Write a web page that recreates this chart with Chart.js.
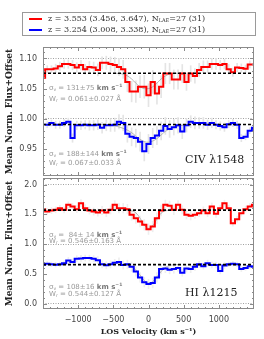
<!DOCTYPE html>
<html>
<head>
<meta charset="utf-8">
<script src="https://cdn.jsdelivr.net/npm/chart.js@4.4.1/dist/chart.umd.min.js"></script>
<style>
  html, body { margin: 0; padding: 0; background: #fff; }
  #wrap { position: relative; width: 264px; height: 339px; overflow: hidden; }
  #wrap canvas { position: absolute; left: 0; top: 0; }
  .legend { position: absolute; left: 22px; top: 12px; width: 234px; height: 24px; box-sizing: border-box;
            border: 1px solid #9a9a9a; font: 8px "DejaVu Serif"; color: #333; }
  .legend .row { position: absolute; left: 6px; height: 10px; line-height: 10px; white-space: nowrap; }
  .legend .swatch { display: inline-block; width: 13px; height: 2px; margin-right: 6px; vertical-align: middle; }
  .legend sub { font-size: 5px; vertical-align: -1px; }
  .note { position: absolute; font: 7px "DejaVu Sans"; color: #999; white-space: nowrap; line-height: 8px; }
  .note b { color: #777; }
  .note sub { font-size: 4.5px; vertical-align: -1px; }
  .note sup { font-size: 4.5px; vertical-align: 3px; }
  .ion { position: absolute; font: 11px "DejaVu Serif"; color: #222; white-space: nowrap; line-height: 12px; }
</style>
</head>
<body>
<div id="wrap">
  <canvas id="civChart" width="264" height="339"></canvas>
  <canvas id="hiChart" width="264" height="339"></canvas>

  <div class="legend">
    <div class="row" style="top:1px"><span class="swatch" style="background:#ff0000"></span>z = 3.553 (3.456, 3.647), N<sub>LAE</sub>=27 (31)</div>
    <div class="row" style="top:12px"><span class="swatch" style="background:#0000ff"></span>z = 3.254 (3.008, 3.338), N<sub>LAE</sub>=27 (31)</div>
  </div>

  <div class="note" style="left:49px;top:82px">σ<sub>v</sub> = 131±75 <b>km s<sup>−1</sup></b></div>
  <div class="note" style="left:49px;top:95px">W<sub>r</sub> = 0.061±0.027 Å</div>
  <div class="note" style="left:49px;top:148px">σ<sub>v</sub> = 188±144 <b>km s<sup>−1</sup></b></div>
  <div class="note" style="left:49px;top:159px">W<sub>r</sub> = 0.067±0.033 Å</div>
  <div class="ion" style="left:185px;top:154px">CIV λ1548</div>

  <div class="note" style="left:49px;top:229px">σ<sub>v</sub> =&nbsp; 84± 14 <b>km s<sup>−1</sup></b></div>
  <div class="note" style="left:49px;top:237px">W<sub>r</sub> = 0.546±0.163 Å</div>
  <div class="note" style="left:49px;top:281px">σ<sub>v</sub> = 108±16 <b>km s<sup>−1</sup></b></div>
  <div class="note" style="left:49px;top:290px">W<sub>r</sub> = 0.544±0.127 Å</div>
  <div class="ion" style="left:185px;top:287px">HI λ1215</div>
</div>

<script>
// bin centres (km/s)
const velocity = [-1500, -1440, -1380, -1320, -1260, -1200, -1140, -1080, -1020, -960,
                  -900, -840, -780, -720, -660, -600, -540, -480, -420, -360,
                  -300, -240, -180, -120, -60, 0, 60, 120, 180, 240,
                  300, 360, 420, 480, 540, 600, 660, 720, 780, 840,
                  900, 960, 1020, 1080, 1140, 1200, 1260, 1320, 1380, 1440, 1500];

// CIV stack, z = 3.553 (red, offset) and z = 3.254 (blue)
const civRed = [1.068, 1.082, 1.082, 1.0835, 1.087, 1.0906, 1.0906, 1.089, 1.085, 1.089,
                1.082, 1.086, 1.085, 1.081, 1.0928, 1.0928, 1.0906, 1.089, 1.086, 1.082,
                1.061, 1.045, 1.045, 1.053, 1.053, 1.039, 1.061, 1.042, 1.053, 1.075,
                1.075, 1.065, 1.065, 1.075, 1.061, 1.075, 1.071, 1.081, 1.086, 1.086,
                1.0906, 1.0906, 1.089, 1.0906, 1.082, 1.077, 1.085, 1.084, 1.083, 1.090, 1.090];
const civBlue = [0.990, 0.990, 0.993, 0.990, 0.990, 0.993, 0.995, 0.968, 0.989, 0.989,
                 0.990, 0.989, 0.989, 0.990, 0.985, 0.989, 0.989, 0.990, 0.995, 0.993,
                 0.975, 0.970, 0.968, 0.962, 0.946, 0.958, 0.968, 0.972, 0.980, 0.988,
                 0.983, 0.986, 0.989, 0.979, 0.989, 0.995, 0.993, 0.993, 0.993, 0.990,
                 0.993, 0.990, 0.988, 0.986, 0.991, 0.993, 0.990, 0.968, 0.970, 0.980, 0.985];
const civRedErr = [0.006, 0.006, 0.006, 0.007, 0.007, 0.007, 0.007, 0.008, 0.008, 0.008,
                   0.008, 0.009, 0.009, 0.010, 0.010, 0.011, 0.012, 0.013, 0.014, 0.015,
                   0.016, 0.017, 0.018, 0.018, 0.019, 0.019, 0.019, 0.018, 0.018, 0.017,
                   0.017, 0.016, 0.016, 0.015, 0.014, 0.013, 0.012, 0.011, 0.010, 0.010,
                   0.009, 0.009, 0.008, 0.008, 0.008, 0.007, 0.007, 0.007, 0.006, 0.006, 0.006];
const civBlueErr = [0.005, 0.005, 0.005, 0.006, 0.006, 0.006, 0.006, 0.007, 0.007, 0.007,
                    0.007, 0.008, 0.008, 0.008, 0.009, 0.009, 0.010, 0.011, 0.012, 0.013,
                    0.014, 0.015, 0.015, 0.016, 0.016, 0.016, 0.016, 0.015, 0.015, 0.014,
                    0.014, 0.013, 0.013, 0.012, 0.011, 0.010, 0.010, 0.009, 0.009, 0.008,
                    0.008, 0.007, 0.007, 0.007, 0.006, 0.006, 0.006, 0.006, 0.005, 0.005, 0.005];
const civContinuum = [1.0755, 0.9905];

// Gaussian fits
const civRedFitV = [-480, -420, -360, -300, -240, -180, -120, -60, 0, 60, 120, 180, 240, 300, 360, 420];
const civRedFit  = [1.0755, 1.075, 1.074, 1.071, 1.066, 1.059, 1.053, 1.050, 1.050, 1.053, 1.059, 1.066, 1.071, 1.074, 1.075, 1.0755];
const civBlueFitV = [-720, -600, -480, -360, -240, -180, -120, -60, 0, 60, 120, 180, 240, 360, 480, 600];
const civBlueFit  = [0.9905, 0.990, 0.988, 0.984, 0.977, 0.971, 0.966, 0.962, 0.961, 0.963, 0.967, 0.973, 0.979, 0.986, 0.989, 0.9905];

// HI (Lya) stack
const hiRed = [1.587, 1.547, 1.564, 1.575, 1.603, 1.575, 1.659, 1.631, 1.587, 1.687,
               1.603, 1.564, 1.547, 1.531, 1.564, 1.531, 1.575, 1.659, 1.603, 1.603,
               1.587, 1.491, 1.436, 1.380, 1.324, 1.251, 1.296, 1.436, 1.564, 1.659,
               1.642, 1.575, 1.659, 1.575, 1.491, 1.475, 1.491, 1.520, 1.564, 1.520,
               1.631, 1.508, 1.603, 1.687, 1.603, 1.352, 1.419, 1.520, 1.587, 1.631, 1.659];
const hiBlue = [0.655, 0.670, 0.660, 0.655, 0.660, 0.680, 0.725, 0.700, 0.755, 0.760,
                0.765, 0.765, 0.755, 0.730, 0.660, 0.645, 0.660, 0.685, 0.700, 0.650,
                0.660, 0.620, 0.540, 0.440, 0.360, 0.330, 0.345, 0.440, 0.580, 0.590,
                0.570, 0.580, 0.600, 0.520, 0.590, 0.580, 0.620, 0.660, 0.630, 0.680,
                0.650, 0.650, 0.550, 0.640, 0.660, 0.670, 0.660, 0.580, 0.600, 0.630, 0.620];
const hiRedErr = [0.05, 0.05, 0.05, 0.05, 0.05, 0.05, 0.05, 0.05, 0.06, 0.06,
                  0.06, 0.06, 0.06, 0.06, 0.07, 0.07, 0.07, 0.07, 0.08, 0.08,
                  0.08, 0.09, 0.09, 0.09, 0.09, 0.09, 0.09, 0.09, 0.09, 0.08,
                  0.08, 0.08, 0.07, 0.07, 0.07, 0.07, 0.06, 0.06, 0.06, 0.06,
                  0.06, 0.06, 0.05, 0.05, 0.05, 0.05, 0.05, 0.05, 0.05, 0.05, 0.05];
const hiBlueErr = [0.04, 0.04, 0.04, 0.04, 0.04, 0.04, 0.05, 0.05, 0.05, 0.05,
                   0.05, 0.05, 0.05, 0.06, 0.06, 0.06, 0.06, 0.06, 0.07, 0.07,
                   0.07, 0.08, 0.08, 0.08, 0.08, 0.08, 0.08, 0.08, 0.08, 0.07,
                   0.07, 0.07, 0.06, 0.06, 0.06, 0.06, 0.06, 0.05, 0.05, 0.05,
                   0.05, 0.05, 0.05, 0.05, 0.04, 0.04, 0.04, 0.04, 0.04, 0.04, 0.04];
const hiContinuum = [1.57, 0.655];
const hiRedFitV = [-360, -300, -240, -180, -120, -60, 0, 60, 120, 180, 240, 300, 360];
const hiRedFit  = [1.57, 1.568, 1.56, 1.525, 1.435, 1.32, 1.265, 1.31, 1.42, 1.52, 1.558, 1.568, 1.57];
const hiBlueFitV = [-420, -360, -300, -240, -180, -120, -60, 0, 60, 120, 180, 240, 300, 360, 420];
const hiBlueFit  = [0.655, 0.652, 0.643, 0.62, 0.565, 0.48, 0.39, 0.345, 0.37, 0.45, 0.54, 0.605, 0.64, 0.652, 0.655];

// axes
const xRange = [-1500, 1500];
const xMajor = [-1000, -500, 0, 500, 1000];
const civRange = [0.905, 1.119];
const civTicks = [0.95, 1.00, 1.05, 1.10];
const civDotted = [1.00, 1.10];
const hiRange = [-0.09, 2.11];
const hiTicks = [0.0, 0.5, 1.0, 1.5, 2.0];
const hiDotted = [0.0, 1.0, 2.0];

function pts(xs, ys) {
    return xs.map((v, i) => ({ x: v, y: ys[i] }));
}

function errBars(vals, errs) {
    return velocity.map((v, i) => ({ x: v, y: [vals[i] - errs[i], vals[i] + errs[i]] }));
}

function steps(lo, hi, step) {
    const out = [];
    for (let k = Math.ceil(lo / step - 1e-9); k * step <= hi + 1e-9; k++) out.push(+(k * step).toFixed(4));
    return out;
}

// IDL-style box: frame plus inward ticks on all four sides
const idlFrame = {
    id: "idlFrame",
    afterDatasetsDraw(chart, args, opts) {
        const { ctx, chartArea: a } = chart;
        const x = chart.scales.x, y = chart.scales.y;
        ctx.save();
        ctx.strokeStyle = "#8a8a8a";
        ctx.lineWidth = 1;
        ctx.strokeRect(a.left + 0.5, a.top + 0.5, a.right - a.left - 1, a.bottom - a.top - 1);
        ctx.beginPath();
        const xTick = (v, len) => {
            const px = Math.round(x.getPixelForValue(v)) + 0.5;
            ctx.moveTo(px, a.bottom); ctx.lineTo(px, a.bottom - len);
            ctx.moveTo(px, a.top); ctx.lineTo(px, a.top + len);
        };
        const yTick = (v, len) => {
            const py = Math.round(y.getPixelForValue(v)) + 0.5;
            ctx.moveTo(a.left, py); ctx.lineTo(a.left + len, py);
            ctx.moveTo(a.right, py); ctx.lineTo(a.right - len, py);
        };
        opts.xMinor.forEach(v => xTick(v, 2));
        opts.xMajor.forEach(v => xTick(v, 4));
        opts.yMinor.forEach(v => yTick(v, 2));
        opts.yMajor.forEach(v => yTick(v, 4));
        ctx.stroke();
        ctx.restore();
    }
};

function panel(canvasId, cfg) {
    const near = (a, b) => Math.abs(a - b) < 1e-6;
    return new Chart(document.getElementById(canvasId), {
        type: "line",
        data: {
            datasets: [
                { data: pts(xRange, [cfg.cont[0], cfg.cont[0]]), borderColor: "#000", borderWidth: 1.6, borderDash: [3, 2], pointRadius: 0, order: 0 },
                { data: pts(xRange, [cfg.cont[1], cfg.cont[1]]), borderColor: "#000", borderWidth: 1.6, borderDash: [3, 2], pointRadius: 0, order: 0 },
                { data: pts(velocity, cfg.red), borderColor: "#ff0000", borderWidth: 2, stepped: "middle", pointRadius: 0, order: 1 },
                { data: pts(velocity, cfg.blue), borderColor: "#0000ff", borderWidth: 2, stepped: "middle", pointRadius: 0, order: 1 },
                { data: pts(cfg.redFitV, cfg.redFit), borderColor: "#9a9a9a", borderWidth: 0.7, tension: 0.4, pointRadius: 0, order: 2 },
                { data: pts(cfg.blueFitV, cfg.blueFit), borderColor: "#9a9a9a", borderWidth: 0.7, tension: 0.4, pointRadius: 0, order: 2 },
                { type: "bar", data: errBars(cfg.red, cfg.redErr), backgroundColor: cfg.errColor, barThickness: 1, grouped: false, order: 3 },
                { type: "bar", data: errBars(cfg.blue, cfg.blueErr), backgroundColor: cfg.errColor, barThickness: 1, grouped: false, order: 3 }
            ]
        },
        options: {
            responsive: false,
            animation: false,
            events: [],
            layout: { padding: { left: 0, right: 10, top: cfg.padTop, bottom: cfg.padBottom } },
            plugins: {
                legend: { display: false },
                tooltip: { enabled: false },
                idlFrame: {
                    xMinor: steps(-1400, 1400, 100),
                    xMajor: xMajor,
                    yMinor: steps(cfg.range[0], cfg.range[1], cfg.minor),
                    yMajor: cfg.ticks
                }
            },
            scales: {
                x: {
                    type: "linear",
                    min: xRange[0],
                    max: xRange[1],
                    offset: false,
                    display: cfg.showX,
                    afterBuildTicks: s => { s.ticks = xMajor.map(v => ({ value: v })); },
                    afterFit: s => { if (cfg.showX) s.height = 30; },
                    grid: { display: false, offset: false, drawTicks: false },
                    border: { display: false },
                    ticks: {
                        padding: 6,
                        color: "#444",
                        font: { family: "DejaVu Sans", size: 8 },
                        maxRotation: 0,
                        callback: v => String(v).replace("-", "\u2212")
                    },
                    title: {
                        display: true,
                        text: "LOS Velocity (km s\u207B\u00B9)",
                        color: "#222",
                        font: { family: "DejaVu Serif", size: 8, weight: "bold" },
                        padding: { top: 0, bottom: 2 }
                    }
                },
                y: {
                    min: cfg.range[0],
                    max: cfg.range[1],
                    afterBuildTicks: s => { s.ticks = cfg.ticks.map(v => ({ value: v })); },
                    afterFit: s => { s.width = 43; },
                    grid: {
                        drawTicks: false,
                        lineWidth: 1,
                        color: c => (c.tick && cfg.dotted.some(d => near(d, c.tick.value))) ? "#a0a0a0" : "rgba(0,0,0,0)"
                    },
                    border: { display: false, dash: [1, 1.5] },
                    ticks: {
                        padding: 6,
                        color: "#444",
                        font: { family: "DejaVu Sans", size: 8 },
                        callback: v => v.toFixed(cfg.digits)
                    },
                    title: {
                        display: true,
                        text: "Mean Norm. Flux+Offset",
                        color: "#222",
                        font: { family: "DejaVu Serif", size: 9, weight: "bold" },
                        padding: { top: 4, bottom: 0 }
                    }
                }
            }
        },
        plugins: [idlFrame]
    });
}

panel("civChart", {
    red: civRed, blue: civBlue, redErr: civRedErr, blueErr: civBlueErr, cont: civContinuum,
    redFitV: civRedFitV, redFit: civRedFit, blueFitV: civBlueFitV, blueFit: civBlueFit,
    range: civRange, ticks: civTicks, dotted: civDotted, minor: 0.01, digits: 2,
    padTop: 47, padBottom: 163, showX: false, errColor: "#e4e4e4"
});

panel("hiChart", {
    red: hiRed, blue: hiBlue, redErr: hiRedErr, blueErr: hiBlueErr, cont: hiContinuum,
    redFitV: hiRedFitV, redFit: hiRedFit, blueFitV: hiBlueFitV, blueFit: hiBlueFit,
    range: hiRange, ticks: hiTicks, dotted: hiDotted, minor: 0.1, digits: 1,
    padTop: 178, padBottom: 0, showX: true, errColor: "#eeeeee"
});
</script>
</body>
</html>
